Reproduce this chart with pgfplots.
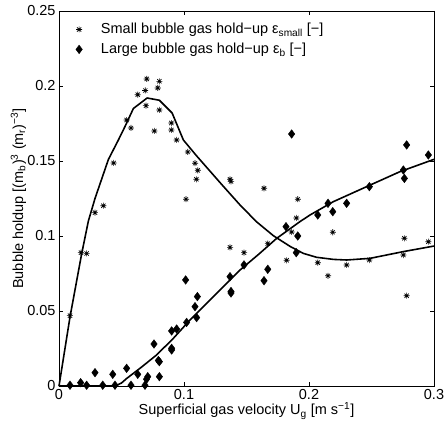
\documentclass[border=0pt]{standalone}
\usepackage{pgfplots}
\pgfplotsset{compat=1.18}
\usepackage{fontspec}
\setmainfont{Liberation Sans}
\pgfdeclareplotmark{mstar}{%
 \pgfpathmoveto{\pgfqpoint{-\pgfplotmarksize}{0pt}}\pgfpathlineto{\pgfqpoint{\pgfplotmarksize}{0pt}}%
 \pgfpathmoveto{\pgfqpoint{0pt}{-\pgfplotmarksize}}\pgfpathlineto{\pgfqpoint{0pt}{\pgfplotmarksize}}%
 \pgfpathmoveto{\pgfqpoint{-.707\pgfplotmarksize}{-.707\pgfplotmarksize}}\pgfpathlineto{\pgfqpoint{.707\pgfplotmarksize}{.707\pgfplotmarksize}}%
 \pgfpathmoveto{\pgfqpoint{-.707\pgfplotmarksize}{.707\pgfplotmarksize}}\pgfpathlineto{\pgfqpoint{.707\pgfplotmarksize}{-.707\pgfplotmarksize}}%
 \pgfusepathqstroke}
\newcommand{\fs}{\fontsize{14.5bp}{17bp}\selectfont}
\begin{document}
\begin{tikzpicture}
\useasboundingbox (-59bp,-50bp) rectangle (385bp,386bp);
\begin{axis}[
  scale only axis,
  width=375bp, height=375bp,
  at={(0,0)}, anchor=south west,
  xmin=0, xmax=0.3, ymin=0, ymax=0.25,
  xtick={0,0.1,0.2,0.3},
  ytick={0,0.05,0.1,0.15,0.2,0.25},
  xticklabels={0,0.1,0.2,0.3},
  yticklabels={0,0.05,0.1,0.15,0.2,0.25},
  tick align=inside,
  major tick length=4bp,
  axis line style={line width=0.8pt},
  every tick/.style={black, line width=0.6pt},
  tick label style={font=\fs},
  xlabel={Superficial gas velocity U\textsubscript{g} [m s\textsuperscript{−1}]},
  ylabel={Bubble holdup [(m\textsubscript{b})\textsuperscript{3} (m\textsubscript{r})\textsuperscript{−3}]},
  xlabel style={font=\fs, at={(axis description cs:0.5,-0.0773)}, anchor=base},
  ylabel style={font=\fs, at={(axis description cs:-0.096,0.5)}, anchor=base},
  legend style={draw=none, fill=none, at={(0.03,0.978)}, anchor=north west, font=\fs, row sep=4bp},
  legend image code/.code={%
    \draw plot coordinates {(0.2cm,0cm)};
    \path[draw=none] (0cm,0cm) -- (0.9cm,0cm);},
  legend cell align=left,
  clip=false,
]
% small bubble data
\addplot[only marks, mark=mstar, mark size=3bp, line width=0.7pt, black] coordinates {
(0.0702,0.2047) (0.0803,0.2031) (0.0690,0.1970) (0.0790,0.1987) (0.0630,0.1942)
(0.0696,0.1869) (0.0803,0.1840) (0.0541,0.1773) (0.0576,0.1720) (0.0763,0.1700)
(0.0899,0.1753) (0.0899,0.1707) (0.0941,0.1640) (0.0437,0.1487)
(0.1030,0.1560) (0.1088,0.1485) (0.1110,0.1438) (0.1099,0.1378) (0.1016,0.1245)
(0.1368,0.1378) (0.1376,0.1364) (0.1640,0.1318) (0.1910,0.1245) (0.1899,0.1120)
(0.1861,0.1027) (0.1910,0.1000) (0.1368,0.0924) (0.1480,0.0889) (0.1670,0.0949) (0.1821,0.0838)
(0.2190,0.1025) (0.2763,0.0985) (0.2955,0.0962) (0.2070,0.0822) (0.2152,0.0735)
(0.2301,0.0807) (0.2483,0.0840) (0.2755,0.0873) (0.2781,0.0602)
(0.0355,0.1202) (0.0288,0.1156) (0.0176,0.0889) (0.0221,0.0884) (0.0088,0.0469)
};
\addlegendentry{Small bubble gas hold−up ε\textsubscript{small} [−]}
% large bubble data
\addplot[only marks, mark=diamond*, mark size=4.3bp, black] coordinates {
(0.0088,0.0005) (0.0173,0.0022) (0.0221,0.0005) (0.0288,0.0089) (0.0350,0.0005)
(0.0430,0.0078) (0.0448,0.0005) (0.0541,0.0118) (0.0576,0.0005) (0.0630,0.0078)
(0.0688,0.0005) (0.0710,0.0062) (0.0700,0.0045) (0.0760,0.0280) (0.0803,0.0162)
(0.0795,0.0170) (0.0803,0.0062) (0.0901,0.0251) (0.0901,0.0240) (0.0901,0.0367) (0.0941,0.0380)
(0.1021,0.0424) (0.1013,0.0707) (0.1088,0.0529) (0.1107,0.0596) (0.1101,0.0456)
(0.1368,0.0729) (0.1376,0.0620) (0.1376,0.0630) (0.1640,0.0702) (0.1670,0.0778)
(0.1480,0.0807) (0.1816,0.1062) (0.1910,0.1000) (0.1898,0.0889)
(0.2070,0.1140) (0.2152,0.1218) (0.2190,0.1162) (0.2301,0.1218) (0.2483,0.1329)
(0.2755,0.1440) (0.2763,0.1384) (0.2955,0.1540) (0.2781,0.1607) (0.1861,0.1680)
};
\addlegendentry{Large bubble gas hold−up ε\textsubscript{b} [−]}
% fitted curves
\addplot[forget plot, black, line width=1.6pt, line join=round] coordinates {
(0,0) (0.0088,0.046) (0.0181,0.088) (0.0235,0.110) (0.0288,0.125) (0.0395,0.151)
(0.0475,0.164) (0.0528,0.173) (0.0595,0.185) (0.0705,0.192) (0.0803,0.1905)
(0.0905,0.182) (0.0995,0.164) (0.110,0.1535) (0.120,0.1440) (0.130,0.1345)
(0.1448,0.1207) (0.158,0.1095) (0.1715,0.1002) (0.185,0.0930) (0.1955,0.0884)
(0.2061,0.0858) (0.2195,0.0844) (0.2301,0.0840) (0.2488,0.0851) (0.2755,0.0896) (0.3,0.0933)
};
\addplot[forget plot, black, line width=1.6pt, line join=round] coordinates {
(0,0) (0.045,0) (0.050,0.0020) (0.0541,0.0050) (0.0648,0.0118) (0.0781,0.0207)
(0.0915,0.0318) (0.1048,0.0440) (0.1181,0.0551) (0.1315,0.0662) (0.1448,0.0773)
(0.1600,0.0880) (0.1741,0.0984) (0.1928,0.1096) (0.2008,0.1140) (0.2195,0.1229)
(0.2461,0.1329) (0.2728,0.1429) (0.3,0.1511)
};
\end{axis}
\end{tikzpicture}
\end{document}
